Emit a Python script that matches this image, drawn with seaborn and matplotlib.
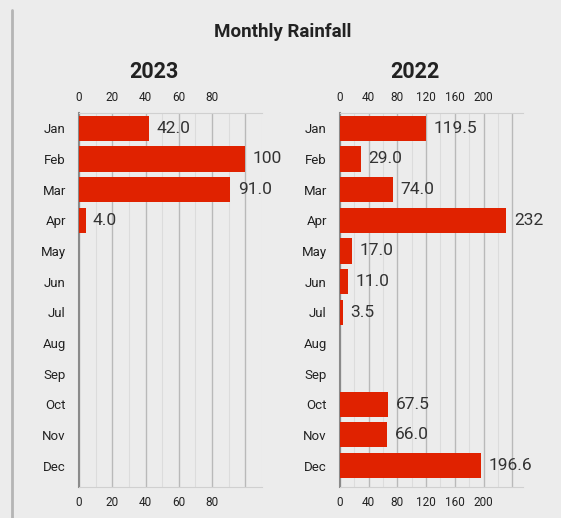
import numpy as np
import pandas as pd
import seaborn as sns
import matplotlib.pyplot as plt
from matplotlib.lines import Line2D
from matplotlib.ticker import MultipleLocator

months = ['Jan', 'Feb', 'Mar', 'Apr', 'May', 'Jun', 'Jul', 'Aug', 'Sep', 'Oct', 'Nov', 'Dec']
rain_2023 = [42.0, 100, 91.0, 4.0, 0, 0, 0, 0, 0, 0, 0, 0]
rain_2022 = [119.5, 29.0, 74.0, 232, 17.0, 11.0, 3.5, 0, 0, 67.5, 66.0, 196.6]

sns.set_style('white')
plt.rcParams['font.family'] = ['Roboto', 'DejaVu Sans']

bg = '#ececec'
bar_color = '#e02200'

fig = plt.figure(figsize=(5.61, 5.18), dpi=100, facecolor=bg)

# left border of the card
fig.add_artist(Line2D([12 / 561, 12 / 561], [0, 1 - 10 / 518], color='#b5b5b5', lw=2))

panels = [
    ('2023', rain_2023, 79, 110, 20, 10),
    ('2022', rain_2022, 340, 255, 40, 20),
]

for title, values, left_px, xmax, major, minor in panels:
    ax = fig.add_axes([left_px / 561, 1 - 487 / 518, 183 / 561, 374 / 518])
    ax.set_facecolor(bg)
    df = pd.DataFrame({'month': months, 'rain': values})
    sns.barplot(data=df, x='rain', y='month', orient='h', color=bar_color,
                width=0.82, saturation=1, linewidth=0, ax=ax, zorder=3)
    ax.set_xlim(0, xmax)
    ax.set_ylim(11.7, -0.5)
    ticks = np.arange(0, xmax, major)
    ax.set_xticks(ticks)
    ax.set_xticklabels([str(int(t)) for t in ticks[:-1]] + [''])
    ax.xaxis.set_minor_locator(MultipleLocator(minor))
    ax.grid(axis='x', which='major', color='#b9b9b9', lw=1, zorder=0)
    ax.grid(axis='x', which='minor', color='#dcdcdc', lw=0.8, zorder=0)
    ax.tick_params(axis='x', which='both', labeltop=True, labelbottom=True,
                   top=False, bottom=False, labelsize=8.5, colors='#222222', pad=3)
    ax.tick_params(axis='y', left=False, labelsize=9.5, colors='#222222', pad=6)
    ax.set_xlabel('')
    ax.set_ylabel('')
    for side in ['top', 'bottom']:
        ax.spines[side].set_color('#d0d0d0')
    ax.spines['left'].set_color('#8a8a8a')
    ax.spines['left'].set_linewidth(1.5)
    ax.spines['right'].set_visible(False)

    for i, v in enumerate(values):
        if v == 0:
            continue
        label = f'{int(v)}' if (float(v).is_integer() and v >= 100) else f'{v:.1f}'
        ax.text(v + xmax * 0.04, i, label, va='center', ha='left',
                fontsize=12.5, color='#333333')

    fig.text((left_px - 34 + 183 / 2 + 17) / 561, 1 - 72 / 518, title,
             ha='center', va='center', fontsize=15.5, fontweight='bold', color='#222222')

fig.text(283 / 561, 1 - 32 / 518, 'Monthly Rainfall', ha='center', va='center',
         fontsize=13.5, fontweight='bold', color='#222222')

fig.savefig('out.png', dpi=100, facecolor=bg)
